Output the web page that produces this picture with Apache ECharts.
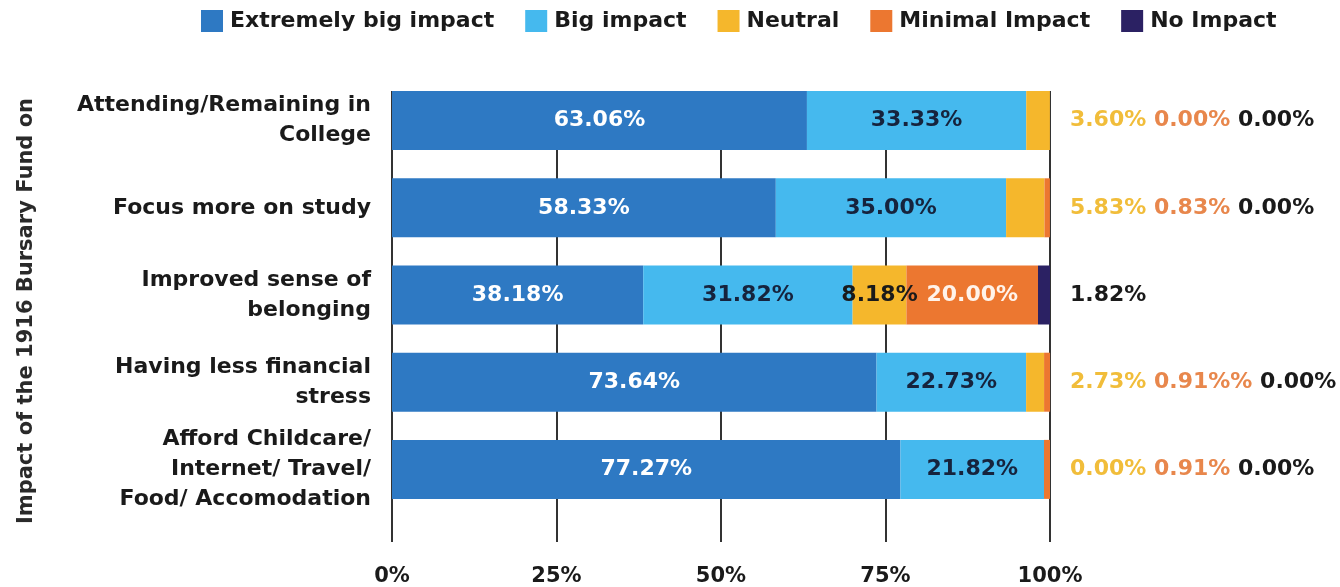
<!DOCTYPE html>
<html><head><meta charset="utf-8">
<script src="https://cdn.jsdelivr.net/npm/echarts@6/dist/echarts.min.js"></script>
<style>html,body{margin:0;padding:0;background:#fff}#c{width:1340px;height:587px}</style>
</head><body><div id="c"></div>
<script>
const categories = [
  'Attending/Remaining in\nCollege',
  'Focus more on study',
  'Improved sense of\nbelonging',
  'Having less financial\nstress',
  'Afford Childcare/\nInternet/ Travel/\nFood/ Accomodation'
];
const seriesNames = ['Extremely big impact', 'Big impact', 'Neutral', 'Minimal Impact', 'No Impact'];
const extremelyBig = [63.06, 58.33, 38.18, 73.64, 77.27];
const bigImpact   = [33.33, 35.00, 31.82, 22.73, 21.82];
const neutral     = [3.60, 5.83, 8.18, 2.73, 0.00];
const minimal     = [0.00, 0.83, 20.00, 0.91, 0.91];
const noImpact    = [0.00, 0.00, 1.82, 0.00, 0.00];
const xTicks = [0, 25, 50, 75, 100];
const minimalTextOverride = {3: '0.91%%'};

const colors = ['#2e79c3', '#45b9ee', '#f5b72c', '#ec7730', '#2b2163'];
const insideColors = ['#ffffff', '#16233d', '#1a1a1a', '#fff3ea', '#ffffff'];
const INSIDE_MIN = 7;
const FONT = 'DejaVu Sans';
const fmt = v => v.toFixed(2) + '%';

const values = [extremelyBig, bigImpact, neutral, minimal, noImpact];

const series = values.map((arr, k) => {
  const s = {
    name: seriesNames[k],
    type: 'bar',
    stack: 'total',
    xAxisIndex: 0,
    yAxisIndex: 0,
    barWidth: 59,
    clip: false,
    data: arr,
    itemStyle: {color: colors[k]},
    label: {
      show: true,
      position: 'inside',
      fontFamily: FONT,
      fontWeight: 'bold',
      fontSize: 22,
      color: insideColors[k],
      formatter: p => (p.value >= INSIDE_MIN ? fmt(p.value) : '')
    },
    emphasis: {disabled: true}
  };
  if (k === 4) {
    s.label = {
      show: true,
      position: 'right',
      distance: 20,
      fontFamily: FONT,
      fontWeight: 'bold',
      fontSize: 22,
      color: '#1a1a1a',
      formatter: p => {
        const i = p.dataIndex;
        const parts = [];
        if (neutral[i] < INSIDE_MIN) parts.push('{n|' + fmt(neutral[i]) + '}');
        if (minimal[i] < INSIDE_MIN) parts.push('{m|' + (minimalTextOverride[i] || fmt(minimal[i])) + '}');
        if (noImpact[i] < INSIDE_MIN) parts.push('{k|' + fmt(noImpact[i]) + '}');
        return parts.join(' ');
      },
      rich: {
        n: {color: '#f1bd3a', fontFamily: FONT, fontWeight: 'bold', fontSize: 22},
        m: {color: '#e8874c', fontFamily: FONT, fontWeight: 'bold', fontSize: 22},
        k: {color: '#1a1a1a', fontFamily: FONT, fontWeight: 'bold', fontSize: 22}
      }
    };
  }
  return s;
});

const chart = echarts.init(document.getElementById('c'), null, {renderer: 'canvas'});
chart.setOption({
  animation: false,
  backgroundColor: '#ffffff',
  legend: {
    data: seriesNames,
    left: 196,
    top: 5,
    icon: 'rect',
    itemWidth: 22,
    itemHeight: 22,
    itemGap: 31,
    selectedMode: false,
    textStyle: {fontFamily: FONT, fontWeight: 'bold', fontSize: 22, color: '#1a1a1a', padding: [0, 0, 0, 2]}
  },
  grid: [
    {left: 392, right: 290, top: 77, bottom: 74},
    {left: 392, right: 290, top: 91, bottom: 42}
  ],
  xAxis: [
    {gridIndex: 0, type: 'value', min: 0, max: 100, show: false},
    {
      gridIndex: 1, type: 'value', min: xTicks[0], max: xTicks[xTicks.length - 1], interval: 25,
      axisLine: {show: false}, axisTick: {show: false},
      splitLine: {show: true, lineStyle: {color: '#333333', width: 2}},
      axisLabel: {
        margin: 24, fontFamily: FONT, fontWeight: 'bold', fontSize: 21, color: '#1a1a1a',
        formatter: v => v + '%'
      }
    }
  ],
  yAxis: [
    {
      gridIndex: 0, type: 'category', data: categories, inverse: true,
      axisLine: {show: false}, axisTick: {show: false}, splitLine: {show: false},
      axisLabel: {
        margin: 21, fontFamily: FONT, fontWeight: 'bold', fontSize: 22, lineHeight: 30,
        color: '#1a1a1a', align: 'right'
      }
    },
    {gridIndex: 1, type: 'value', show: false}
  ],
  graphic: [{
    type: 'text',
    x: 27, y: 311,
    rotation: Math.PI / 2,
    style: {
      text: 'Impact of the 1916 Bursary Fund on',
      fontFamily: FONT, fontWeight: 'bold', fontSize: 21,
      fill: '#2a2a2a', align: 'center', verticalAlign: 'middle'
    }
  }],
  series: series
});
</script></body></html>
